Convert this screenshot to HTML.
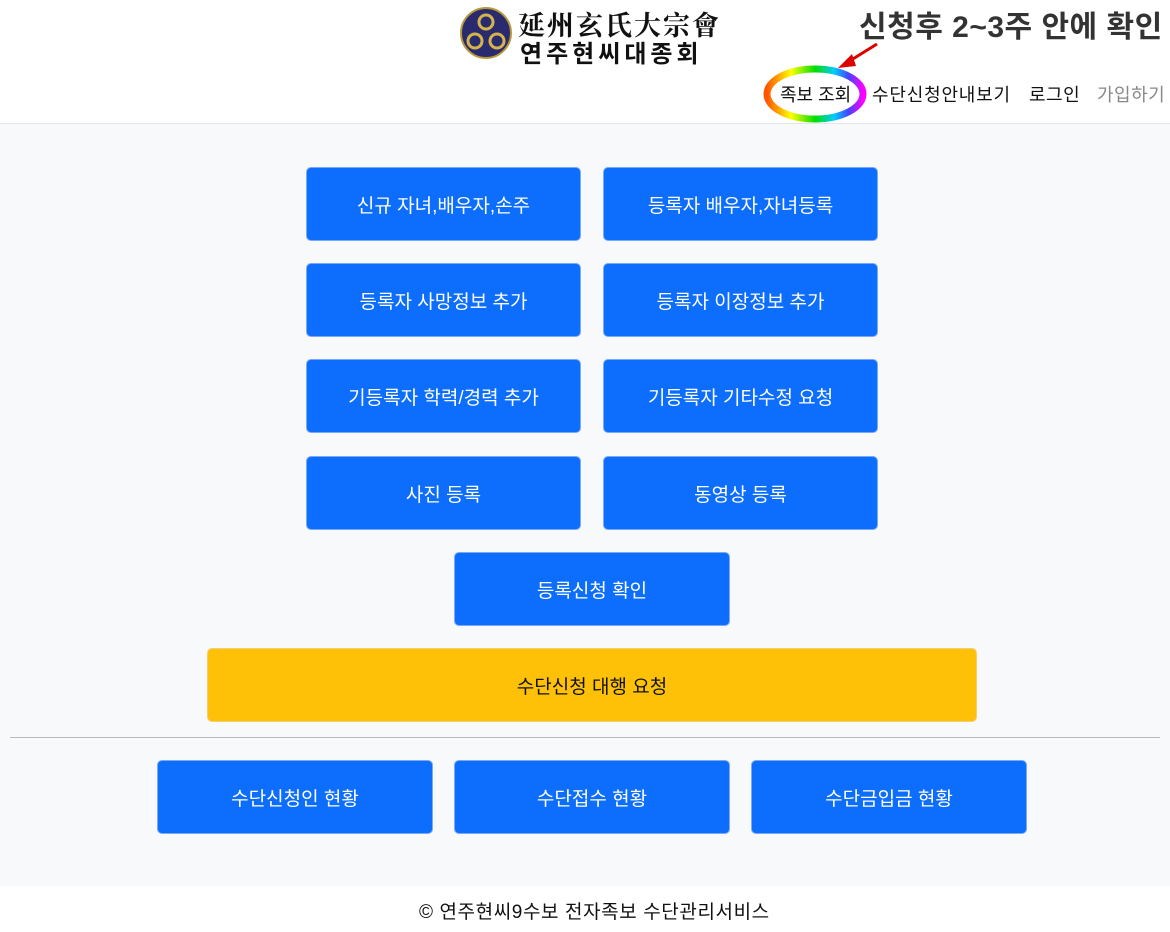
<!DOCTYPE html>
<html><head><meta charset="utf-8"><style>
*{box-sizing:border-box;margin:0;padding:0}
body{width:1170px;height:932px;background:#fff;font-family:"Liberation Sans","Noto Sans CJK KR",sans-serif;position:relative;overflow:hidden}
.hdr{position:absolute;left:0;top:0;width:1170px;height:124px;background:#fff;border-bottom:1px solid #e5e5e5}
.main{position:absolute;left:0;top:124px;width:1170px;height:762px;background:#f8f9fa}
.b{position:absolute;height:74px;border-radius:5px;background:#0d6efd;color:#fff;font-size:19px;display:flex;align-items:center;justify-content:center;border:1px solid #7aa9f5}
.y{background:#ffc107;color:#111;border-color:#f0d070}
.t{position:absolute;font-size:18px;color:#111;white-space:nowrap}
</style></head><body>
<div class="hdr"></div>
<div class="main"></div>
<svg style="position:absolute;left:460px;top:5px" width="56" height="56">
<circle cx="26" cy="28" r="25" fill="#2a2a6e" stroke="#b89a3a" stroke-width="2"/>
<circle cx="26" cy="17" r="7" fill="none" stroke="#d4b44a" stroke-width="3"/>
<circle cx="15" cy="36" r="7" fill="none" stroke="#d4b44a" stroke-width="3"/>
<circle cx="37" cy="36" r="7" fill="none" stroke="#d4b44a" stroke-width="3"/>
</svg>
<div class="t" style="left:518px;top:4px;font-size:27px;font-family:'Noto Serif CJK SC',serif;font-weight:bold;letter-spacing:2px">延州玄氏大宗會</div>
<div class="t" style="left:520px;top:34px;font-size:24px;font-weight:bold;letter-spacing:4px">연주현씨대종회</div>
<div class="t" style="left:859px;top:2px;font-size:30px;font-weight:bold;color:#333;letter-spacing:0.5px">신청후 2~3주 안에 확인</div>
<svg style="position:absolute;left:760px;top:40px" width="120" height="90">
<defs><linearGradient id="g" x1="0" x2="1"><stop offset="0" stop-color="#f50"/><stop offset=".25" stop-color="#ff0"/><stop offset=".5" stop-color="#0d0"/><stop offset=".7" stop-color="#0cf"/><stop offset=".85" stop-color="#44f"/><stop offset="1" stop-color="#f0f"/></linearGradient></defs>
<ellipse cx="55" cy="54" rx="48" ry="25" fill="none" stroke="url(#g)" stroke-width="7"/>
<line x1="117" y1="4" x2="88" y2="22" stroke="#d00" stroke-width="3"/>
<polygon points="78,28 92,14 96,26" fill="#d00"/>
</svg>
<div class="t" style="left:780px;top:81px">족보 조회</div>
<div class="t" style="left:872px;top:81px;letter-spacing:0.8px">수단신청안내보기</div>
<div class="t" style="left:1029px;top:81px;letter-spacing:0.5px">로그인</div>
<div class="t" style="left:1097px;top:81px;color:#888;letter-spacing:0.5px">가입하기</div>
<div class="b" style="left:306px;top:167px;width:275px">신규 자녀,배우자,손주</div>
<div class="b" style="left:603px;top:167px;width:275px">등록자 배우자,자녀등록</div>
<div class="b" style="left:306px;top:263px;width:275px">등록자 사망정보 추가</div>
<div class="b" style="left:603px;top:263px;width:275px">등록자 이장정보 추가</div>
<div class="b" style="left:306px;top:359px;width:275px">기등록자 학력/경력 추가</div>
<div class="b" style="left:603px;top:359px;width:275px">기등록자 기타수정 요청</div>
<div class="b" style="left:306px;top:456px;width:275px">사진 등록</div>
<div class="b" style="left:603px;top:456px;width:275px">동영상 등록</div>
<div class="b" style="left:454px;top:552px;width:276px">등록신청 확인</div>
<div class="b y" style="left:207px;top:648px;width:770px">수단신청 대행 요청</div>
<div style="position:absolute;left:10px;top:737px;width:1150px;height:1px;background:#bbb"></div>
<div class="b" style="left:157px;top:760px;width:276px">수단신청인 현황</div>
<div class="b" style="left:454px;top:760px;width:276px">수단접수 현황</div>
<div class="b" style="left:751px;top:760px;width:276px">수단금입금 현황</div>
<div class="t" style="left:419px;top:897px;font-size:19px;letter-spacing:0.6px">© 연주현씨9수보 전자족보 수단관리서비스</div>
</body></html>
